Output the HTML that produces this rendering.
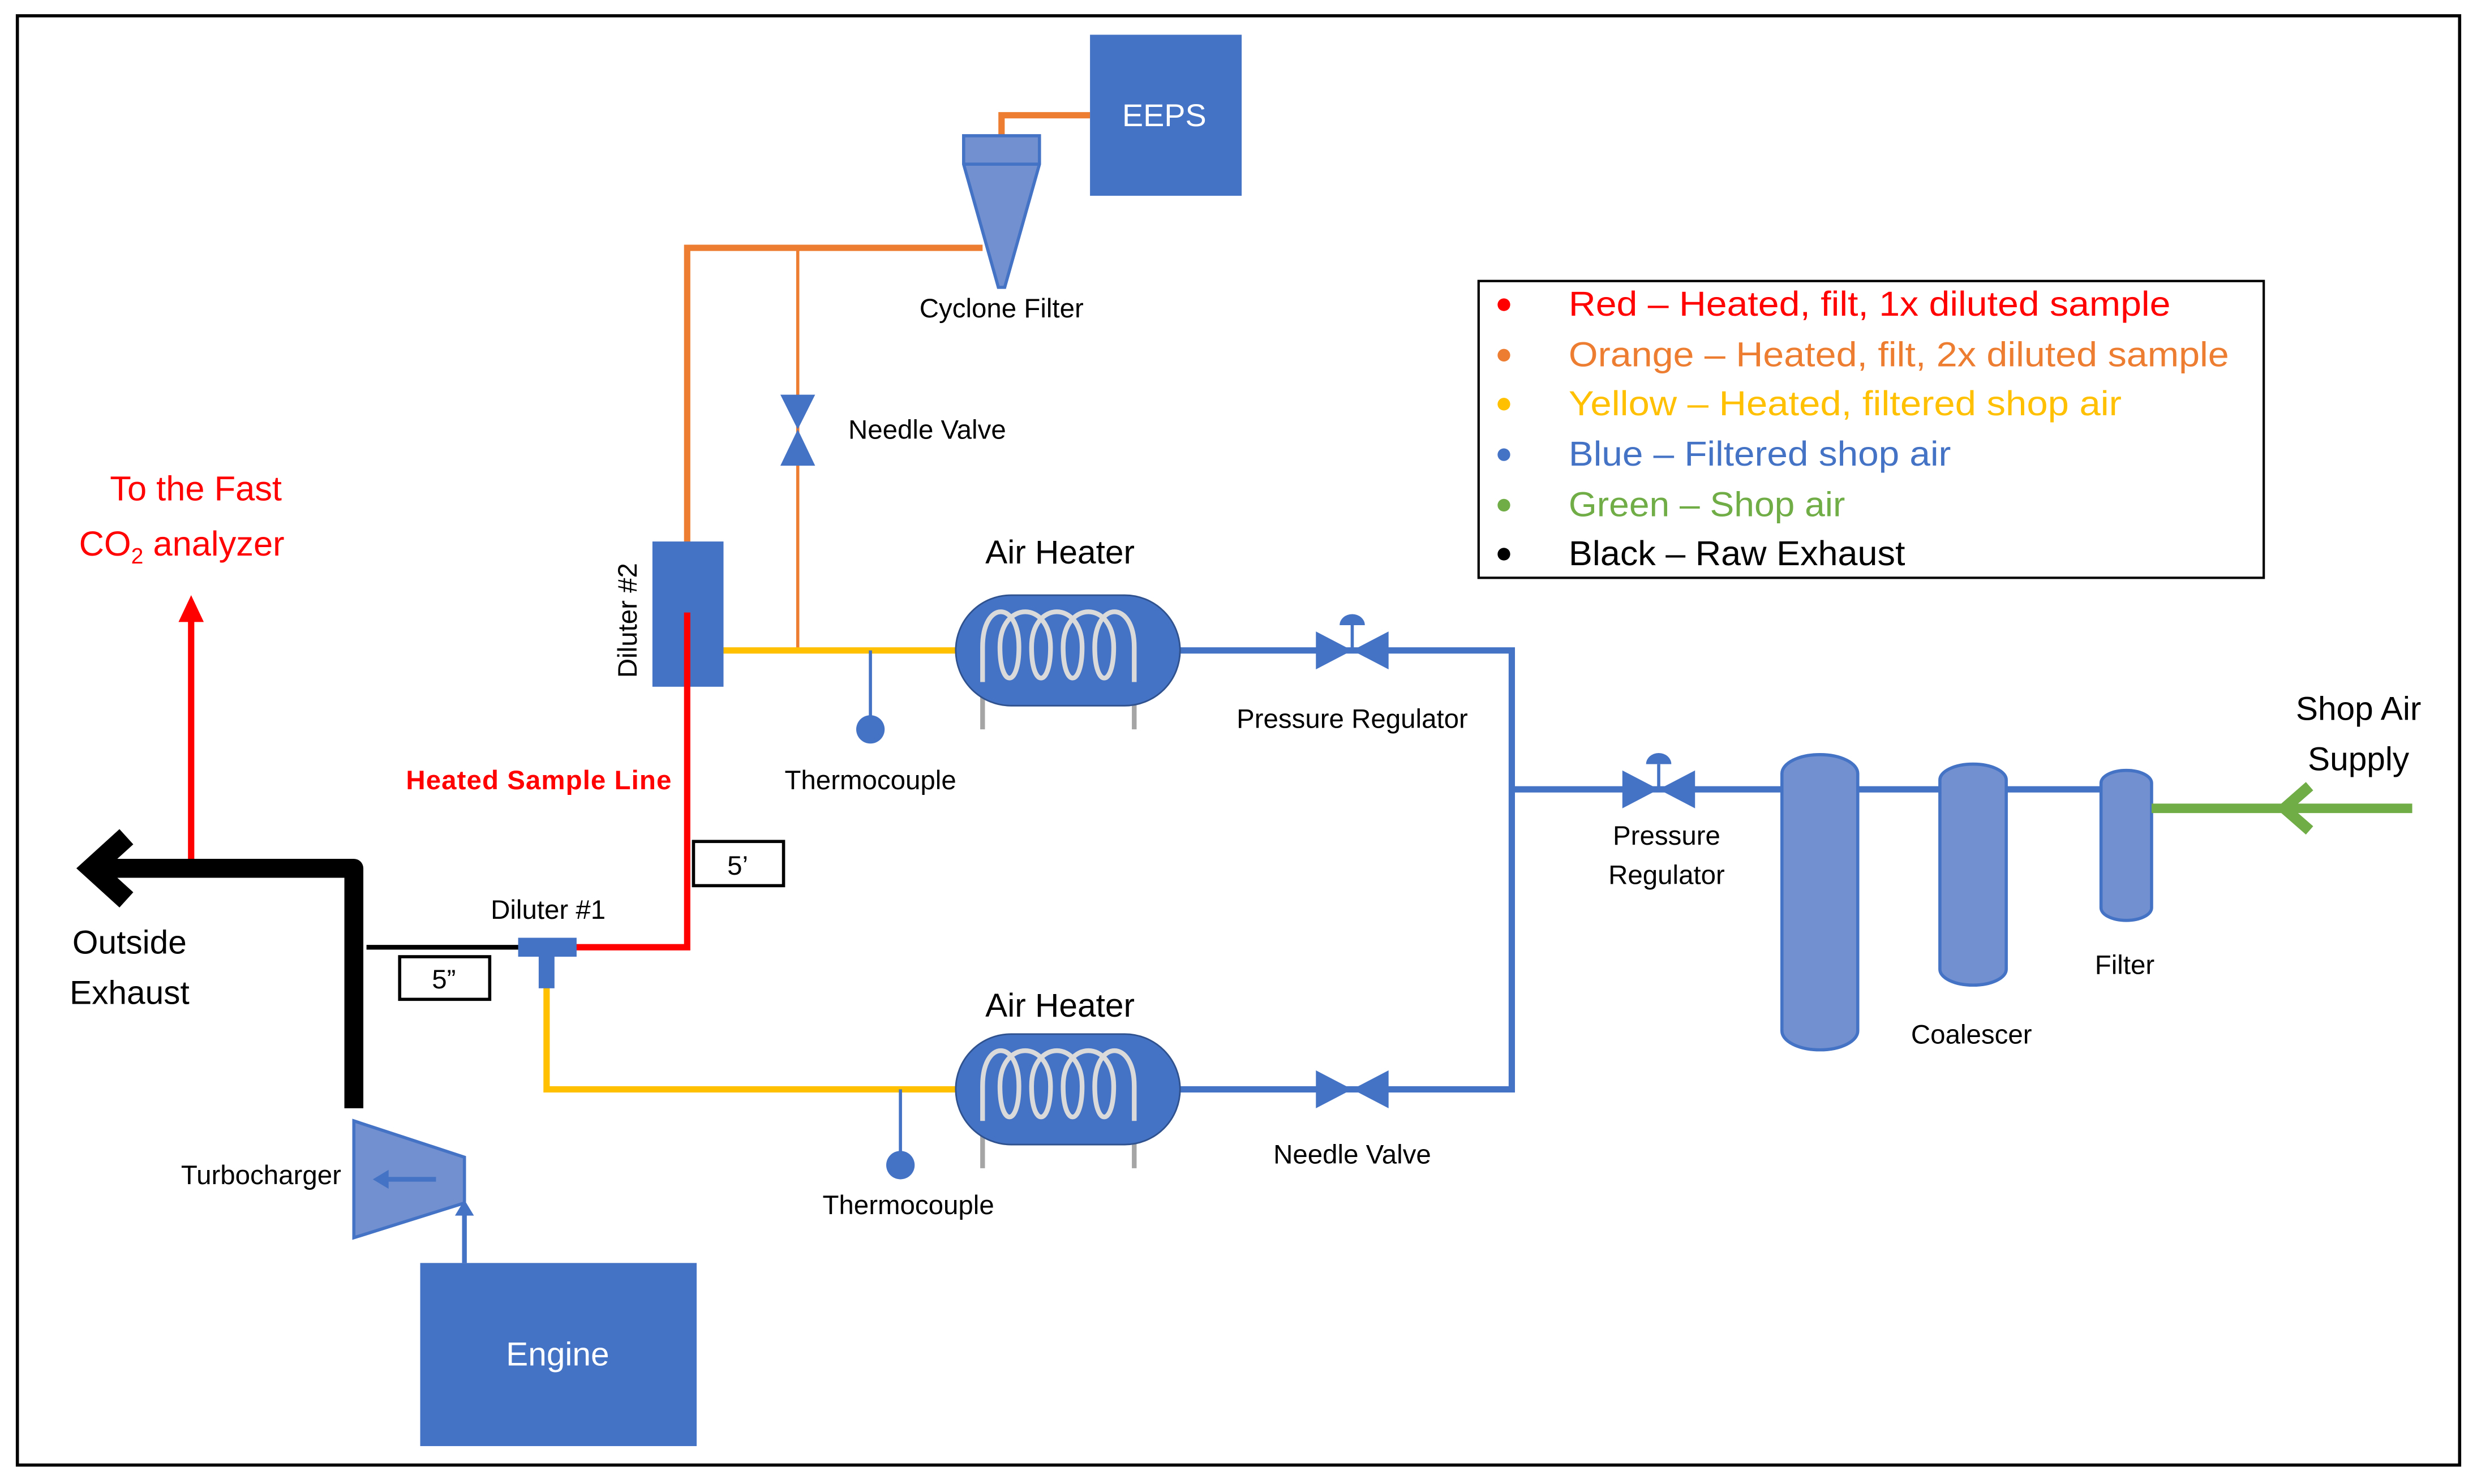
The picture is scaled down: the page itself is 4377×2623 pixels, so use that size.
<!DOCTYPE html>
<html><head><meta charset="utf-8"><style>
html,body{margin:0;padding:0;background:#fff}
svg{display:block}
text{font-family:"Liberation Sans",sans-serif}
</style></head><body>
<svg width="4377" height="2623" viewBox="0 0 1568 940" preserveAspectRatio="none" xmlns="http://www.w3.org/2000/svg">
<rect x="0" y="0" width="1568" height="940" fill="#fff"/>
<rect x="11" y="10" width="1546" height="918" fill="none" stroke="#000" stroke-width="2"/>

<polyline points="690,73 634,73 634,90" fill="none" stroke="#ED7D31" stroke-width="4"/>
<polyline points="622,157 435,157 435,345" fill="none" stroke="#ED7D31" stroke-width="4"/>
<line x1="505" y1="157" x2="505" y2="412" stroke="#ED7D31" stroke-width="2"/>

<rect x="690" y="22" width="96" height="102" fill="#4472C4"/>
<text x="737" y="80" font-size="20" fill="#fff" text-anchor="middle">EEPS</text>

<polygon points="610,86 658,86 658,104 636,182 632,182 610,104" fill="#7290CF" stroke="#4472C4" stroke-width="2"/>
<line x1="610" y1="104" x2="658" y2="104" stroke="#4472C4" stroke-width="2"/>
<text x="634" y="201" font-size="17" text-anchor="middle">Cyclone Filter</text>

<polygon points="494,250 516,250 505,272" fill="#4472C4"/>
<polygon points="494,295 516,295 505,272" fill="#4472C4"/>
<text x="537" y="278" font-size="17">Needle Valve</text>

<line x1="458" y1="412" x2="606" y2="412" stroke="#FFC000" stroke-width="4"/>
<polyline points="606,690 346,690 346,612" fill="none" stroke="#FFC000" stroke-width="4"/>

<rect x="413" y="343" width="45" height="92" fill="#4472C4"/>
<text transform="translate(403,393) rotate(-90)" font-size="17" text-anchor="middle">Diluter #2</text>

<polyline points="435,388 435,600 362,600" fill="none" stroke="#FF0000" stroke-width="4"/>
<line x1="121" y1="550" x2="121" y2="390" stroke="#FF0000" stroke-width="4"/>
<polygon points="113,394 129,394 121,377" fill="#FF0000"/>
<text x="124" y="317" font-size="22" fill="#FF0000" text-anchor="middle">To the Fast</text>
<text x="50" y="352" font-size="22" fill="#FF0000">CO<tspan font-size="14" dy="5">2</tspan><tspan dy="-5"> analyzer</tspan></text>
<text x="341" y="500" font-size="17" fill="#FF0000" font-weight="bold" text-anchor="middle" textLength="168">Heated Sample Line</text>

<line x1="551" y1="412" x2="551" y2="455" stroke="#4472C4" stroke-width="2"/>
<circle cx="551" cy="462" r="9" fill="#4472C4"/>
<text x="551" y="500" font-size="17" text-anchor="middle">Thermocouple</text>
<line x1="570" y1="690" x2="570" y2="731" stroke="#4472C4" stroke-width="2"/>
<circle cx="570" cy="738" r="9" fill="#4472C4"/>
<text x="575" y="769" font-size="17" text-anchor="middle">Thermocouple</text>

<polyline points="747,412 957,412 957,690 747,690" fill="none" stroke="#4472C4" stroke-width="4"/>
<line x1="957" y1="500" x2="1340" y2="500" stroke="#4472C4" stroke-width="4"/>

<g id="h1">
<line x1="622" y1="430" x2="622" y2="462" stroke="#A5A5A5" stroke-width="3"/>
<line x1="718" y1="430" x2="718" y2="462" stroke="#A5A5A5" stroke-width="3"/>
<rect x="605" y="377" width="142" height="70" rx="35" fill="#4472C4" stroke="#2F528F" stroke-width="1"/>
<path d="M622,432 L622,410 C622,380 645,380 645,410 C645,436 633,436 633,410 C633,380 665,380 665,410 C665,436 653,436 653,410 C653,380 685,380 685,410 C685,436 673,436 673,410 C673,380 705,380 705,410 C705,436 693,436 693,410 C693,380 718,380 718,410 L718,432" fill="none" stroke="#DADADA" stroke-width="3"/>
</g>
<use href="#h1" transform="translate(0,278)"/>
<text x="671" y="357" font-size="21" text-anchor="middle">Air Heater</text>
<text x="671" y="644" font-size="21" text-anchor="middle">Air Heater</text>

<g id="pr">
<polygon points="833,400 833,424 856,412" fill="#4472C4"/>
<polygon points="879,400 879,424 856,412" fill="#4472C4"/>
<line x1="856" y1="412" x2="856" y2="396" stroke="#4472C4" stroke-width="2"/>
<path d="M848,396 A8,7 0 0 1 864,396 Z" fill="#4472C4"/>
</g>
<use href="#pr" transform="translate(194,88)"/>
<text x="856" y="461" font-size="17" text-anchor="middle">Pressure Regulator</text>
<text x="1055" y="535" font-size="17" text-anchor="middle">Pressure</text>
<text x="1055" y="560" font-size="17" text-anchor="middle">Regulator</text>
<polygon points="833,678 833,702 856,690" fill="#4472C4"/>
<polygon points="879,678 879,702 856,690" fill="#4472C4"/>
<text x="856" y="737" font-size="17" text-anchor="middle">Needle Valve</text>

<rect x="1128" y="478" width="48" height="187" rx="24" ry="12" fill="#7290CF" stroke="#4472C4" stroke-width="2"/>
<rect x="1228" y="484" width="42" height="140" rx="21" ry="10" fill="#7290CF" stroke="#4472C4" stroke-width="2"/>
<rect x="1330" y="488" width="32" height="95" rx="16" ry="8" fill="#7290CF" stroke="#4472C4" stroke-width="2"/>
<text x="1248" y="661" font-size="17" text-anchor="middle">Coalescer</text>
<text x="1345" y="617" font-size="17" text-anchor="middle">Filter</text>

<line x1="1362" y1="512" x2="1527" y2="512" stroke="#70AD47" stroke-width="6"/>
<polyline points="1462,498 1446,512 1462,526" fill="none" stroke="#70AD47" stroke-width="7"/>
<text x="1493" y="456" font-size="21" text-anchor="middle">Shop Air</text>
<text x="1493" y="488" font-size="21" text-anchor="middle">Supply</text>

<line x1="232" y1="600" x2="330" y2="600" stroke="#000" stroke-width="3"/>
<polyline points="224,702 224,550 64,550" fill="none" stroke="#000" stroke-width="12" stroke-linejoin="round"/>
<polyline points="80,530 58,550 80,570" fill="none" stroke="#000" stroke-width="13"/>
<text x="82" y="604" font-size="21" text-anchor="middle">Outside</text>
<text x="82" y="636" font-size="21" text-anchor="middle">Exhaust</text>

<rect x="328" y="594" width="37" height="12" fill="#4472C4"/>
<rect x="341" y="604" width="10" height="22" fill="#4472C4"/>
<text x="347" y="582" font-size="17" text-anchor="middle">Diluter #1</text>

<rect x="253" y="606" width="57" height="27" fill="#fff" stroke="#000" stroke-width="2"/>
<text x="281" y="626" font-size="17" text-anchor="middle">5”</text>
<rect x="439" y="533" width="57" height="28" fill="#fff" stroke="#000" stroke-width="2"/>
<text x="467" y="554" font-size="17" text-anchor="middle">5’</text>

<polygon points="224,710 294,733 294,762 224,784" fill="#7290CF" stroke="#4472C4" stroke-width="2"/>
<line x1="276" y1="747" x2="242" y2="747" stroke="#4472C4" stroke-width="3"/>
<polygon points="236,747 246,741 246,753" fill="#4472C4"/>
<line x1="294" y1="800" x2="294" y2="768" stroke="#4472C4" stroke-width="3"/>
<polygon points="288,770 300,770 294,760" fill="#4472C4"/>
<text x="216" y="750" font-size="17" text-anchor="end">Turbocharger</text>

<rect x="266" y="800" width="175" height="116" fill="#4472C4"/>
<text x="353" y="865" font-size="21" fill="#fff" text-anchor="middle">Engine</text>

<rect x="936" y="178" width="497" height="188" fill="#fff" stroke="#000" stroke-width="1.5"/>
<g font-size="22">
<circle cx="952" cy="193" r="4" fill="#FF0000"/><text x="993" y="200" fill="#FF0000" textLength="381" lengthAdjust="spacingAndGlyphs">Red – Heated, filt, 1x diluted sample</text>
<circle cx="952" cy="225" r="4" fill="#ED7D31"/><text x="993" y="232" fill="#ED7D31" textLength="418" lengthAdjust="spacingAndGlyphs">Orange – Heated, filt, 2x diluted sample</text>
<circle cx="952" cy="256" r="4" fill="#FFC000"/><text x="993" y="263" fill="#FFC000" textLength="350" lengthAdjust="spacingAndGlyphs">Yellow – Heated, filtered shop air</text>
<circle cx="952" cy="288" r="4" fill="#4472C4"/><text x="993" y="295" fill="#4472C4" textLength="242" lengthAdjust="spacingAndGlyphs">Blue – Filtered shop air</text>
<circle cx="952" cy="320" r="4" fill="#70AD47"/><text x="993" y="327" fill="#70AD47" textLength="175" lengthAdjust="spacingAndGlyphs">Green – Shop air</text>
<circle cx="952" cy="351" r="4" fill="#000"/><text x="993" y="358" fill="#000" textLength="213" lengthAdjust="spacingAndGlyphs">Black – Raw Exhaust</text>
</g>
</svg>
</body></html>
